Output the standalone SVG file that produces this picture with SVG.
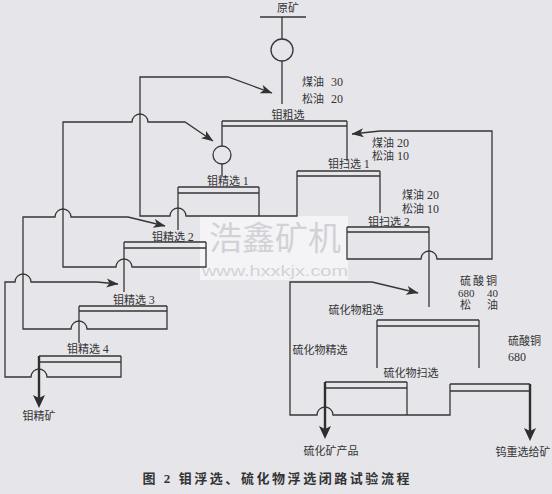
<svg xmlns="http://www.w3.org/2000/svg" width="552" height="494" viewBox="0 0 552 494">
<defs>
<style>
.ln{stroke:#363636;stroke-width:1.3;fill:none}
.th{stroke:#2e2e2e;stroke-width:2.4;fill:none}
.t{font-family:"Liberation Serif","Noto Sans CJK SC",serif;font-size:11px;fill:#333}
.d{font-size:12px}
.m{text-anchor:middle}
.cap{font-family:"Liberation Serif","Noto Sans CJK SC",serif;font-size:13px;font-weight:bold;fill:#333}
.wm{fill:#d2d2d6;text-anchor:middle}
</style>
<marker id="ah" markerUnits="userSpaceOnUse" markerWidth="13" markerHeight="10" refX="11.5" refY="4.5" orient="auto" viewBox="0 0 13 9"><path d="M0,0 L12,4.5 L0,9 L3,4.5 z" fill="#333"/></marker>
<marker id="ahb" markerUnits="userSpaceOnUse" markerWidth="14" markerHeight="12" refX="4" refY="6" orient="auto" viewBox="0 0 14 12"><path d="M0,0 L13,6 L0,12 L3,6 z" fill="#2e2e2e"/></marker>
</defs>
<rect x="0" y="0" width="552" height="494" fill="#e6e6ea"/>
<g id="watermark">
<rect x="200" y="216" width="148" height="64" fill="#f4f4f6"/>
<text class="wm" x="275" y="250" font-size="33" font-family="Noto Sans CJK SC, sans-serif">浩鑫矿机</text>
<text class="wm" x="275" y="276" font-size="15" font-family="Liberation Sans, sans-serif" textLength="146" lengthAdjust="spacingAndGlyphs">www.hxxkjx.com</text>
</g>

<g id="connectors">
<path class="ln" d="M260,17 H306 M282,17 V39 M282,61 V104"/>
<circle class="ln" cx="282" cy="50" r="11"/>
<path class="ln" d="M222,121 V146 M222,164 V176"/>
<circle class="ln" cx="222" cy="155" r="9"/>
<path class="ln" d="M347,121 V161"/>
<path class="ln" d="M259,187 V216"/>
<path class="ln" marker-end="url(#ah)" d="M297,171 V216 H186 a8,8 0 0 0 -16,0 H140 V77 H228 L272,93"/>
<path class="ln" marker-end="url(#ah)" d="M347,227 V259 H421 a8,8 0 0 1 16,0 H492 V131 H380 L352,134"/>
<path class="ln" d="M380,171 V213"/>
<path class="ln" d="M429,227 V307"/>
<path class="ln" marker-end="url(#ah)" d="M206,242 V267 H132 a8,8 0 0 0 -16,0 H63 V122 H132 a8,8 0 0 1 16,0 H185 L213,141"/>
<path class="ln" d="M178,187 V230"/>
<path class="ln" marker-end="url(#ah)" d="M167,306 V329 H87 a8,8 0 0 0 -16,0 H23 V217 H55 a8,8 0 0 1 16,0 H128 L165,226"/>
<path class="ln" d="M124,242 V292"/>
<path class="ln" marker-end="url(#ah)" d="M121,356 V377 H47 a8,8 0 0 0 -16,0 H5 V282 H15 a8,8 0 0 1 16,0 H97 L118,284"/>
<path class="ln" d="M79,306 V343"/>
<path class="th" marker-end="url(#ahb)" d="M39,356 V399"/>
<path class="ln" d="M407,382 V415"/>
<path class="ln" marker-end="url(#ah)" d="M450,384 V415 H333 a8,8 0 0 0 -16,0 H290 V282 H372 L418,293"/>
<path class="ln" d="M377,320 V368 M479,320 V368"/>
<path class="th" marker-end="url(#ahb)" d="M325,382 V430"/>
<path class="th" marker-end="url(#ahb)" d="M530,384 V432"/>
</g>

<g id="feed"><text class="t m" x="288" y="12">原矿</text></g>
<g id="reagent1"><text class="t" x="302" y="86">煤油<tspan class="d" x="331">30</tspan></text><text class="t" x="302" y="103">松油<tspan class="d" x="331">20</tspan></text></g>

<g id="mo-rougher">
<path class="ln" d="M222,121 H347 M222,126 H347"/>
<text class="t m" x="288" y="119">钼粗选</text>
</g>
<g id="mo-scav1">
<path class="ln" d="M297,171 H380 M297,176 H380"/>
<text class="t" x="328" y="168">钼扫选 <tspan class="d">1</tspan></text>
</g>
<g id="reagent2"><text class="t" x="372" y="147">煤油<tspan class="d" x="397">20</tspan></text><text class="t" x="372" y="160">松油<tspan class="d" x="397">10</tspan></text></g>
<g id="mo-clean1">
<path class="ln" d="M178,187 H259 M178,193 H259"/>
<text class="t" x="207" y="185">钼精选 <tspan class="d">1</tspan></text>
</g>
<g id="reagent3"><text class="t" x="402" y="199">煤油<tspan class="d" x="427">20</tspan></text><text class="t" x="402" y="213">松油<tspan class="d" x="427">10</tspan></text></g>
<g id="mo-scav2">
<path class="ln" d="M347,227 H429 M347,232 H429"/>
<text class="t" x="368" y="225.5">钼扫选 <tspan class="d">2</tspan></text>
</g>
<g id="mo-clean2">
<path class="ln" d="M124,242 H206 M124,248 H206"/>
<text class="t" x="152" y="241">钼精选 <tspan class="d">2</tspan></text>
</g>
<g id="mo-clean3">
<path class="ln" d="M79,306 H167 M79,311 H167"/>
<text class="t" x="113" y="304">钼精选 <tspan class="d">3</tspan></text>
</g>
<g id="mo-clean4">
<path class="ln" d="M39,356 H121 M39,362 H121"/>
<text class="t" x="67" y="353">钼精选 <tspan class="d">4</tspan></text>
</g>
<g id="mo-conc"><text class="t m" x="39" y="420">钼精矿</text></g>

<g id="reagent4">
<text class="t" x="460" y="285" letter-spacing="2">硫酸铜</text>
<text class="t" x="458" y="297">680<tspan x="487">40</tspan></text>
<text class="t" x="460" y="309">松<tspan x="487">油</tspan></text>
</g>
<g id="s-rougher">
<path class="ln" d="M377,320 H479 M377,326 H479"/>
<text class="t m" x="356" y="314">硫化物粗选</text>
</g>
<g id="s-clean">
<path class="ln" d="M325,382 H407 M325,388 H407"/>
<text class="t m" x="320" y="354">硫化物精选</text>
</g>
<g id="reagent5"><text class="t" x="508" y="345">硫酸铜</text><text class="t d" x="508" y="361">680</text></g>
<g id="s-scav">
<path class="ln" d="M450,384 H530 M450,391 H530"/>
<text class="t m" x="411" y="377">硫化物扫选</text>
</g>
<g id="s-product"><text class="t m" x="331" y="455">硫化矿产品</text></g>
<g id="w-feed"><text class="t m" x="523" y="456">钨重选给矿</text></g>

<g id="caption"><text class="cap m" x="276" y="483" textLength="267" lengthAdjust="spacing">图 2  钼浮选、硫化物浮选闭路试验流程</text></g>
</svg>
